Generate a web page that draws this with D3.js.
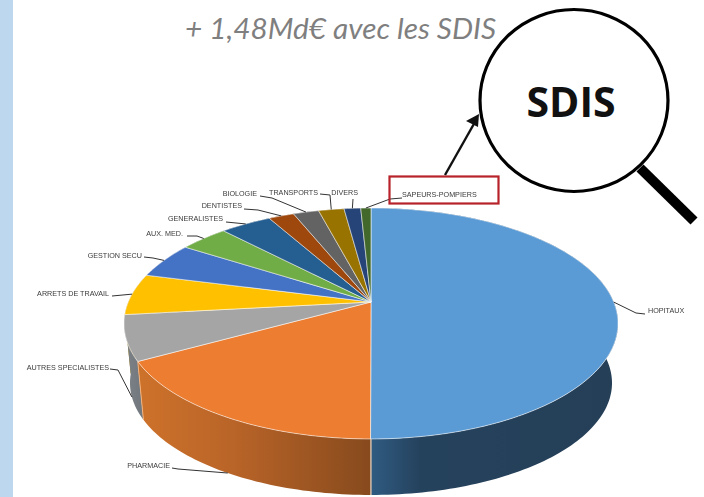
<!DOCTYPE html>
<html>
<head>
<meta charset="utf-8">
<script src="https://cdn.jsdelivr.net/npm/d3@7"></script>
<style>
  html, body { margin: 0; padding: 0; background: #fff; }
  svg { display: block; }
</style>
</head>
<body>
<div id="chart"></div>
<script>
// share of each item in the pie (%), clockwise from the top
var categories = ["HOPITAUX", "PHARMACIE", "AUTRES SPECIALISTES", "ARRETS DE TRAVAIL", "GESTION SECU", "AUX. MED.",
  "GENERALISTES", "DENTISTES", "BIOLOGIE", "TRANSPORTS", "DIVERS", "SAPEURS-POMPIERS"];
var shares = [50, 16.9, 6.3, 5.8, 5.05, 3.8, 4.0, 2.0, 2.0, 2.0, 1.3, 0.8];
var colors = ["#5b9bd5", "#ed7d31", "#a5a5a5", "#ffc000", "#4472c4", "#70ad47",
  "#255e91", "#9e480e", "#636363", "#997300", "#264478", "#43682b"];

var width = 704, height = 497;

var svg = d3.select("#chart").append("svg")
  .attr("width", width)
  .attr("height", height);

var defs = svg.append("defs");
defs.append("filter").attr("id", "soft").append("feGaussianBlur").attr("stdDeviation", 0.3);

// wall shading, left to right across the pie
function wallGradient(id, stops) {
  var g = defs.append("linearGradient").attr("id", id)
    .attr("gradientUnits", "userSpaceOnUse")
    .attr("x1", 125).attr("x2", 617).attr("y1", 0).attr("y2", 0);
  stops.forEach(function(s) {
    g.append("stop").attr("offset", s[0]).attr("stop-color", s[1]);
  });
}
wallGradient("wall0", [[0.5, "#2f5b82"], [0.6, "#25425d"], [1, "#253f57"]]);
wallGradient("wall1", [[0, "#d0742b"], [0.22, "#b96428"], [0.5, "#874a1d"]]);
wallGradient("wall2", [[0, "#7d8286"], [0.04, "#6f767c"]]);

svg.append("rect").attr("width", 13).attr("height", height).attr("fill", "#bdd7ee");

// tilted disc: perspective so the centre sits above the middle of the ellipse
var cx = 371, cy = 302, topR = 242.7, persp = -0.186, tiltA = 55.3;
var ellipseY = 323.5, lowerY = 383, lowerK = 241 / 247, lowerKy = 112 / 115.5;

function project(angle, radius) {
  var u = Math.sin(angle) * radius, v = -Math.cos(angle) * radius;
  var d = persp * v + 1;
  return [cx + topR * u / d, (tiltA * v + cy) / d];
}
function lower(p) {
  return [cx + (p[0] - cx) * lowerK, lowerY + (p[1] - ellipseY) * lowerKy];
}

var pie = d3.pie().sort(null).value(function(d) { return d; });
var arcs = pie(shares);
var line = d3.line();

function rim(d) {
  var n = Math.max(2, Math.ceil((d.endAngle - d.startAngle) / 0.02));
  return d3.range(n + 1).map(function(i) {
    return project(d.startAngle + (d.endAngle - d.startAngle) * i / n, 1);
  });
}

// walls go back to front, top faces over them
var wallOrder = arcs.slice().sort(function(a, b) {
  return d3.ascending(Math.abs(Math.PI - (a.startAngle + a.endAngle) / 2), Math.abs(Math.PI - (b.startAngle + b.endAngle) / 2));
}).reverse();

svg.append("g").selectAll("path")
  .data(wallOrder)
  .enter().append("path")
    .attr("d", function(d) {
      var r = rim(d);
      return line(r.concat(r.map(lower).reverse())) + "Z";
    })
    .attr("fill", function(d) { return d.index < 3 ? "url(#wall" + d.index + ")" : d3.color(colors[d.index]).darker(1); });

svg.append("g").selectAll("path")
  .data(arcs)
  .enter().append("path")
    .attr("d", function(d) { return line([project(0, 0)].concat(rim(d))) + "Z"; })
    .attr("fill", function(d) { return colors[d.index]; })
    .attr("stroke", "#fff")
    .attr("stroke-opacity", 0.6)
    .attr("stroke-width", 0.9)
    .attr("stroke-linejoin", "round");

// seam between the two front walls
var seam = project(Math.PI, 1);
svg.append("path").attr("d", line([seam, lower(seam)])).attr("stroke", "#e8c9ae").attr("stroke-width", 1.2);
var seam2 = project(arcs[1].endAngle, 1);
svg.append("path").attr("d", line([seam2, lower(seam2)])).attr("stroke", "#f2b27e").attr("stroke-width", 1);

// label box: x / y of the text, anchor, elbow of the leader, leader start, leader ends on the wall or not
var labelX = [648, 170, 109, 109, 142, 183, 223, 242, 257, 318, 358, 402];
var labelY = [313, 468, 370, 296, 258, 236, 221, 208, 196, 195, 195, 197];
var labelAnchor = ["start", "end", "end", "end", "end", "end", "end", "end", "end", "end", "end", "start"];
var leaderFrom = [[645, 314], [172, 468], [110, 369], [112, 296], [144, 257], [187, 236], [226, 222], [244, 209], [260, 196], [320, 194], [353, 199], [402, 198]];
var leaderElbow = [[636, 313], [178, 469], [118, 370], null, [153, 258], [197, 236], null, [258, 210], [272, 198], [330, 195], null, [390, 199]];
var onWall = [1, 2];

svg.append("g").selectAll("path")
  .data(arcs)
  .enter().append("path")
    .attr("d", function(d) {
      var i = d.index;
      var end = project((d.startAngle + d.endAngle) / 2, 1);
      if (onWall.indexOf(i) >= 0) end = lower(end);
      var pts = [leaderFrom[i]];
      if (leaderElbow[i]) pts.push(leaderElbow[i]);
      pts.push(end);
      return line(pts);
    })
    .attr("fill", "none")
    .attr("stroke", "#333")
    .attr("stroke-width", 1);

svg.append("g")
  .attr("filter", "url(#soft)")
  .selectAll("text")
  .data(categories)
  .enter().append("text")
    .attr("x", function(d, i) { return labelX[i]; })
    .attr("y", function(d, i) { return labelY[i]; })
    .attr("text-anchor", function(d, i) { return labelAnchor[i]; })
    .attr("font-family", "'Liberation Sans', sans-serif")
    .attr("font-size", 7.2)
    .attr("fill", "#3a3a3a")
    .text(function(d) { return d; });

// red frame around the SDIS slice label, arrow going up to the magnifier
svg.append("rect")
  .attr("x", 389.5).attr("y", 176.5).attr("width", 109).attr("height", 27)
  .attr("fill", "none").attr("stroke", "#b8232b").attr("stroke-width", 2.2);

svg.append("path").attr("d", line([[445, 175], [475, 122]])).attr("stroke", "#111").attr("stroke-width", 2.4);
svg.append("path").attr("d", line([[479, 114], [478, 127], [466, 121]]) + "Z").attr("fill", "#111");

// magnifier
svg.append("line")
  .attr("x1", 640).attr("y1", 168).attr("x2", 694).attr("y2", 221)
  .attr("stroke", "#000").attr("stroke-width", 10);
svg.append("ellipse")
  .attr("cx", 574).attr("cy", 100.5).attr("rx", 94).attr("ry", 91)
  .attr("fill", "#fff").attr("stroke", "#000").attr("stroke-width", 3.2);
svg.append("text")
  .attr("x", 571).attr("y", 117)
  .attr("text-anchor", "middle")
  .attr("font-family", "'Open Sans', sans-serif")
  .attr("font-weight", 700)
  .attr("font-size", 41)
  .attr("fill", "#111")
  .text("SDIS");

svg.append("text")
  .attr("x", 185).attr("y", 39)
  .attr("font-family", "Lato, sans-serif")
  .attr("font-style", "italic")
  .attr("font-size", 29.8)
  .attr("fill", "#7f7f7f")
  .text("+ 1,48Md€ avec les SDIS");
</script>
</body>
</html>
